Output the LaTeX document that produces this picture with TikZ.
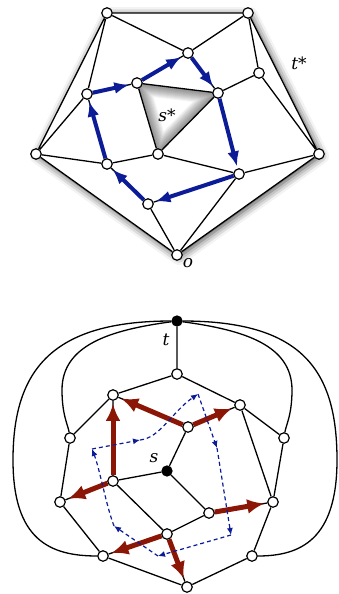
\documentclass[tikz,border=0pt]{standalone}
\usepackage{fontspec}
\setmainfont{DejaVu Serif}
\usetikzlibrary{arrows.meta,shadows.blur,backgrounds}
\definecolor{dblue}{RGB}{12,28,150}
\definecolor{dred}{RGB}{140,22,5}
\begin{document}
\begin{tikzpicture}[x=1pt,y=-1pt,
  vtx/.style={circle,draw,fill=white,line width=1.2pt,inner sep=0pt,minimum size=10.5pt},
  bvtx/.style={circle,draw,fill=black,line width=1.2pt,inner sep=0pt,minimum size=10pt},
  edge/.style={line width=1.3pt},
  barrow/.style={draw=dblue,line width=4pt,-{Latex[length=15pt,width=12pt]},shorten >=2pt},
  rarrow/.style={draw=dred,line width=5pt,-{Latex[length=17pt,width=15pt]},shorten >=3pt},
  darrow/.style={draw=dblue,line width=1.2pt,dash pattern=on 4pt off 3pt,-{Latex[length=7pt,width=6pt]}},
  lbl/.style={font=\fontsize{17}{19}\selectfont\itshape,inner sep=0pt}]
\useasboundingbox (0,0) rectangle (339,594);
% ---------- top graph ----------
\node[vtx] (A) at (107,13) {};
\node[vtx] (B) at (248,13) {};
\node[vtx] (C) at (188,53) {};
\node[vtx] (D) at (259,73) {};
\node[vtx] (E) at (137,83) {};
\node[vtx] (F) at (218,93) {};
\node[vtx] (G) at (87,94) {};
\node[vtx] (H) at (36,154) {};
\node[vtx] (I) at (158,154) {};
\node[vtx] (J) at (319,154) {};
\node[vtx] (K) at (107,164) {};
\node[vtx] (L) at (239,174) {};
\node[vtx] (M) at (148,204) {};
\node[vtx] (O) at (177,255) {};
\begin{scope}[on background layer]
  \fill[white,blur shadow={shadow xshift=2pt,shadow yshift=-2pt,shadow blur radius=8pt,shadow opacity=75}]
    (A.center)--(B.center)--(J.center)--(O.center)--(H.center)--cycle;
  \begin{scope}
    \clip (E.center)--(F.center)--(I.center)--cycle;
    \fill[white] (E.center)--(F.center)--(I.center)--cycle;
    \foreach \w in {2,4,...,24}
      \draw[black,opacity=0.045,line width=\w pt,line join=round] (E.center)--(F.center)--(I.center)--cycle;
  \end{scope}
\end{scope}
\draw[edge] (A)--(B) (A)--(C) (B)--(C) (A)--(H) (A)--(G) (B)--(D) (B)--(J)
  (C)--(E) (C)--(F) (D)--(F) (D)--(J) (E)--(F) (E)--(I) (F)--(I) (G)--(E)
  (G)--(H) (G)--(K) (H)--(K) (H)--(O) (K)--(I) (I)--(L) (L)--(J) (L)--(M)
  (M)--(K) (M)--(O) (L)--(O) (O)--(J);
\draw[barrow] (G)--(E);
\draw[barrow] (E)--(C);
\draw[barrow] (C)--(F);
\draw[barrow] (F)--(L);
\draw[barrow] (L)--(M);
\draw[barrow] (M)--(K);
\draw[barrow] (K)--(G);
\node[lbl] (lss) at (167,115) {s*};
\node[lbl] (lts) at (299,63) {t*};
\node[lbl] (lo) at (188,263) {o};
% ---------- bottom graph ----------
\node[bvtx] (t) at (177,321) {};
\node[vtx] (T1) at (177,374) {};
\node[vtx] (P1) at (113,395) {};
\node[vtx] (P2) at (240,405) {};
\node[vtx] (Q1) at (70,438) {};
\node[vtx] (Q2) at (284,438) {};
\node[vtx] (R) at (188,427) {};
\node[bvtx] (s) at (167,471) {};
\node[vtx] (U) at (113,481) {};
\node[vtx] (V) at (60,502) {};
\node[vtx] (W) at (273,502) {};
\node[vtx] (X) at (209,513) {};
\node[vtx] (Y) at (167,534) {};
\node[vtx] (Z) at (103,556) {};
\node[vtx] (Z2) at (252,556) {};
\node[vtx] (Bt) at (187,587) {};
\draw[edge] (t)--(T1) (T1)--(P1) (T1)--(P2) (P1)--(Q1) (P2)--(Q2) (P2)--(W)
  (Q1)--(V) (Q2)--(W) (V)--(Z) (W)--(Z2) (Z)--(Bt) (Z2)--(Bt)
  (R)--(s) (s)--(U) (s)--(X) (U)--(Y) (X)--(Y)
  (R)--(P1) (R)--(P2) (U)--(P1) (U)--(V) (X)--(W) (Y)--(Z) (Y)--(Bt);
\draw[edge] (t) .. controls (110,330) and (62,345) .. (62,390) .. controls (62,415) and (68,425) .. (Q1);
\draw[edge] (t) .. controls (244,330) and (292,345) .. (292,390) .. controls (292,415) and (286,425) .. (Q2);
\draw[edge] (t) .. controls (52,321) and (13,370) .. (13,460) .. controls (13,540) and (50,556) .. (Z);
\draw[edge] (t) .. controls (302,321) and (337,370) .. (337,460) .. controls (337,540) and (300,556) .. (Z2);
\draw[rarrow] (R)--(P1);
\draw[rarrow] (R)--(P2);
\draw[rarrow] (U)--(P1);
\draw[rarrow] (U)--(V);
\draw[rarrow] (X)--(W);
\draw[rarrow] (Y)--(Z);
\draw[rarrow] (Y)--(Bt);
% dashed cycle
\coordinate (d1) at (92,449);
\coordinate (d2) at (140,440);
\coordinate (d3) at (198,394);
\coordinate (d4) at (217,448);
\coordinate (d5) at (231,535);
\coordinate (d6) at (158,556);
\coordinate (d7) at (114,526);
\draw[darrow] (d1)--(d2);
\draw[darrow] (d2) .. controls (160,438) and (172,412) .. (d3);
\draw[darrow] (d3)--(d4);
\draw[darrow] (d4)--(d5);
\draw[darrow] (d5)--(d6);
\draw[darrow] (d6)--(d7);
\draw[darrow] (d7) .. controls (106,505) and (100,470) .. (d1);
\node[lbl] (lt) at (166,340) {t};
\node[lbl] (ls) at (154,458) {s};
\end{tikzpicture}
\end{document}
